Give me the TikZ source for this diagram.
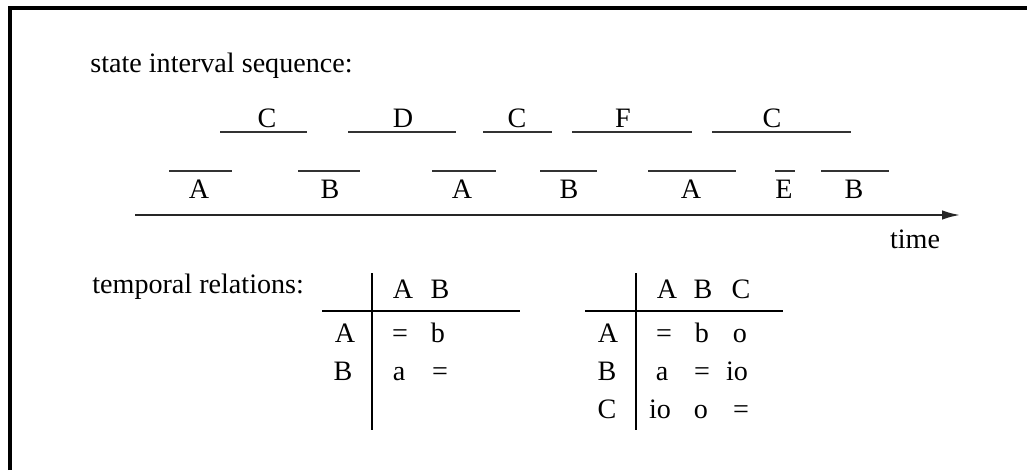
\documentclass[tikz,border=0pt]{standalone}
\usepackage{fontspec}
\setmainfont{Liberation Serif}
\usetikzlibrary{arrows.meta}

\begin{document}
\begin{tikzpicture}[x=0.02cm, y=-0.02cm,
  font=\fontsize{16}{19}\selectfont, >={Latex[length=0.36cm,width=0.19cm]},
  lbl/.style={inner sep=0pt, anchor=base},
  ttl/.style={inner sep=0pt, anchor=base west},
  ivl/.style={line width=1.1pt, draw=black!80},
  tab/.style={line width=0.9pt}]
  \useasboundingbox (0,0) rectangle (1027,470);
  % Rahmen (links und oben)
  \coordinate (fbl) at (10,470); \coordinate (ftl) at (10,8); \coordinate (ftr) at (1027,8);
  \draw[line width=2pt] (fbl) -- (ftl) -- (ftr);
  % Ueberschriften
  \node[ttl] (seq) at (90,72)  {state interval sequence:};
  \node[ttl] (rel) at (92,293) {temporal relations:};
  % Intervalle, obere Reihe (Label ueber der Linie)
  \foreach \a/\b/\lx/\lab/\nm in {220/307/267/C/u1, 348/456/403/D/u2, 483/552/517/C/u3,
                                  572/692/623/F/u4, 712/851/772/C/u5} {
    \coordinate (\nm s) at (\a,132); \coordinate (\nm e) at (\b,132);
    \draw[ivl] (\nm s) -- (\nm e);
    \node[lbl] (\nm) at (\lx,127) {\lab};
  }
  % Intervalle, untere Reihe (Label unter der Linie)
  \foreach \a/\b/\lx/\lab/\nm in {169/232/199/A/l1, 298/360/330/B/l2, 432/496/462/A/l3,
                                  540/597/569/B/l4, 648/736/691/A/l5, 775/795/784/E/l6,
                                  821/889/854/B/l7} {
    \coordinate (\nm s) at (\a,171); \coordinate (\nm e) at (\b,171);
    \draw[ivl] (\nm s) -- (\nm e);
    \node[lbl] (\nm) at (\lx,198) {\lab};
  }
  % Zeitachse
  \coordinate (t0) at (135,215); \coordinate (t1) at (960,215);
  \draw[->, line width=1.1pt, black!85] (t0) -- (t1);
  \node[lbl] (time) at (915,248) {time};
  % Tabelle 1
  \coordinate (av0) at (372,273); \coordinate (av1) at (372,430);
  \coordinate (ah0) at (322,311); \coordinate (ah1) at (520,311);
  \draw[tab] (av0) -- (av1); \draw[tab] (ah0) -- (ah1);
  \foreach \x/\txt/\nm in {403/A/ahA, 440/B/ahB} \node[lbl] (\nm) at (\x,298) {\txt};
  \foreach \x/\y/\txt/\nm in {345/342/A/arA, 343/380/B/arB,
                              400/342/=/aAA, 438/342/b/aAB,
                              399/380/a/aBA, 440/380/=/aBB}
    \node[lbl] (\nm) at (\x,\y) {\txt};
  % Tabelle 2
  \coordinate (bv0) at (636,273); \coordinate (bv1) at (636,430);
  \coordinate (bh0) at (585,311); \coordinate (bh1) at (783,311);
  \draw[tab] (bv0) -- (bv1); \draw[tab] (bh0) -- (bh1);
  \foreach \x/\txt/\nm in {667/A/bhA, 703/B/bhB, 741/C/bhC} \node[lbl] (\nm) at (\x,298) {\txt};
  \foreach \x/\y/\txt/\nm in {608/342/A/brA, 607/380/B/brB, 607/418/C/brC,
                              664/342/=/bAA, 702/342/b/bAB, 740/342/o/bAC,
                              662/380/a/bBA, 702/380/=/bBB, 737/380/io/bBC,
                              660/418/io/bCA, 701/418/o/bCB, 741/418/=/bCC}
    \node[lbl] (\nm) at (\x,\y) {\txt};
\end{tikzpicture}
\end{document}
